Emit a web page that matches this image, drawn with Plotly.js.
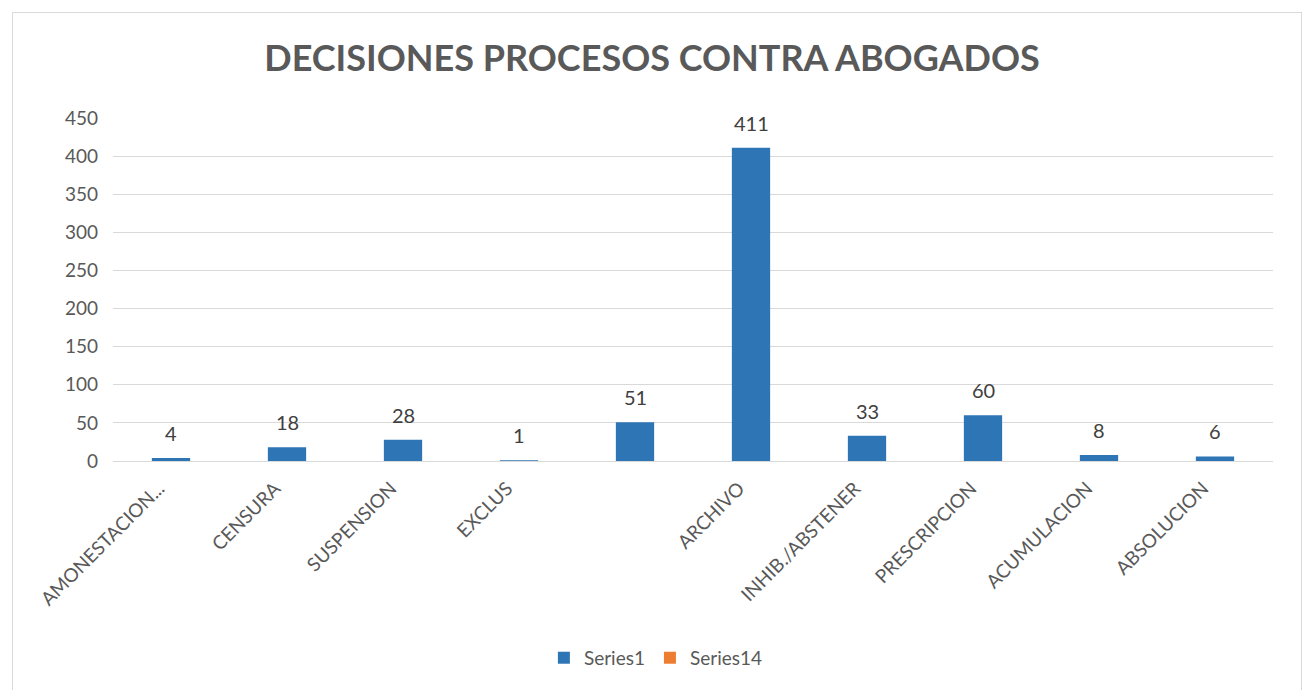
<!DOCTYPE html>
<html><head><meta charset="utf-8">
<script src="https://cdn.plot.ly/plotly-3.0.1.min.js"></script>
<style>
html,body{margin:0;padding:0;background:#fff;}
#frame{position:absolute;left:12px;top:12px;width:1290px;height:690px;border:1px solid #d9d9d9;box-sizing:border-box;}
#chart{position:absolute;left:0;top:0;width:1304px;height:690px;}
</style></head>
<body>
<div id="frame"></div>
<div id="chart"></div>
<script>
const categories = ["AMONESTACION...", "CENSURA", "SUSPENSION", "EXCLUS", " ", "ARCHIVO", "INHIB./ABSTENER", "PRESCRIPCION", "ACUMULACION", "ABSOLUCION"];
const series1 = [4, 18, 28, 1, 51, 411, 33, 60, 8, 6];
const series14 = [null, null, null, null, null, null, null, null, null, null];
const yTicks = [0, 50, 100, 150, 200, 250, 300, 350, 400, 450];

const font = "Lato, 'Open Sans', sans-serif";

const traces = [
  {type: 'bar', name: 'Series1', x: categories, y: series1,
   marker: {color: '#2E75B6'}, width: 0.33, hoverinfo: 'x+y'},
  {type: 'bar', name: 'Series14', x: categories, y: series14,
   marker: {color: '#ED7D31'}, width: 0.33}
];

const annotations = categories.map((c, i) => ({
  x: c, y: series1[i], xref: 'x', yref: 'y', text: String(series1[i]),
  showarrow: false, yanchor: 'middle', yshift: 25,
  font: {family: font, size: 20, color: '#404040'}
}));

const layout = {
  width: 1304, height: 690,
  paper_bgcolor: 'rgba(0,0,0,0)', plot_bgcolor: 'rgba(0,0,0,0)',
  margin: {l: 113, r: 31, t: 118, b: 229},
  title: {text: '<b>DECISIONES PROCESOS CONTRA ABOGADOS</b>', x: 0.5, xanchor: 'center',
          y: 0.915, yanchor: 'middle',
          font: {family: font, size: 36, color: '#595959'}},
  barmode: 'overlay',
  xaxis: {type: 'category', tickangle: -45, showgrid: false, showline: true,
          linecolor: '#d9d9d9', linewidth: 1, ticks: '',
          ticklabelshift: -12, ticklabelstandoff: 8,
          tickfont: {family: font, size: 19, color: '#595959'}},
  yaxis: {range: [0, 450], tickvals: yTicks, showgrid: true, gridcolor: '#d9d9d9',
          gridwidth: 1, zeroline: false, showline: false, ticks: '',
          ticklabelstandoff: 14,
          tickfont: {family: font, size: 19, color: '#595959'}},
  showlegend: true,
  legend: {orientation: 'h', x: 0.468, xanchor: 'center', y: -0.574, yanchor: 'middle',
           font: {family: font, size: 19, color: '#595959'}, traceorder: 'normal'},
  annotations: annotations
};

Plotly.newPlot('chart', traces, layout, {displayModeBar: false, staticPlot: true});
</script>
</body></html>
